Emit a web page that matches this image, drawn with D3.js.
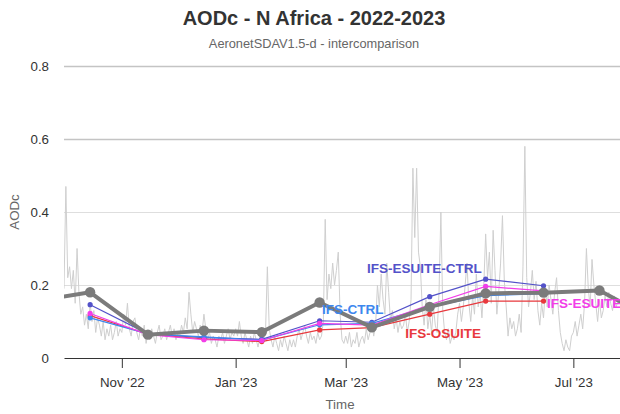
<!DOCTYPE html>
<html>
<head>
<meta charset="utf-8">
<script src="https://cdn.jsdelivr.net/npm/d3@7"></script>
<style>
  html, body { margin: 0; padding: 0; background: #fff; }
  svg { display: block; font-family: "Liberation Sans", Arial, Helvetica, sans-serif; }
</style>
</head>
<body>
<svg id="chart" width="620" height="414"></svg>
<script>
// ---- Monthly observations (AERONET SDA, mid-month) ----
const obsDates = ["2022-09-15", "2022-10-15", "2022-11-15", "2022-12-15", "2023-01-15", "2023-02-15",
                  "2023-03-15", "2023-04-15", "2023-05-15", "2023-06-15", "2023-07-15", "2023-08-15"];
const obsMonthly = [0.155, 0.180, 0.064, 0.075, 0.071, 0.152, 0.084, 0.140, 0.177, 0.179, 0.185, 0.100];

// ---- Monthly model means ----
const modelDates = ["2022-10-15", "2022-11-15", "2022-12-15", "2023-01-15", "2023-02-15",
                    "2023-03-15", "2023-04-15", "2023-05-15", "2023-06-15"];
const ifsEsuiteCtrl = [0.146, 0.066, 0.056, 0.051, 0.102, 0.098, 0.168, 0.216, 0.198];
const ifsEsuite     = [0.122, 0.064, 0.050, 0.048, 0.095, 0.090, 0.146, 0.196, 0.184];
const ifsCtrl       = [0.110, 0.066, 0.058, 0.049, 0.091, 0.095, 0.140, 0.171, 0.176];
const ifsOsuite     = [0.116, 0.065, 0.052, 0.045, 0.077, 0.083, 0.120, 0.156, 0.156];

// ---- Daily observations, one array per month ----
const dailyOct22 = [0.19, 0.47, 0.22, 0.25, 0.19, 0.24, 0.15, 0.30, 0.18, 0.12, 0.14, 0.09, 0.12, 0.08, 0.15, 0.10,
                    0.13, 0.07, 0.11, 0.09, 0.06, 0.10, 0.05, 0.08, 0.06, 0.09, 0.05, 0.07, 0.10, 0.06, 0.08];
const dailyNov22 = [0.07, 0.12, 0.09, 0.15, 0.08, 0.06, 0.10, 0.11, 0.07, 0.05, 0.08, 0.06, 0.09, 0.04, 0.07,
                    0.05, 0.08, 0.06, 0.04, 0.07, 0.09, 0.05, 0.06, 0.08, 0.05, 0.07, 0.09, 0.06, 0.08, 0.05];
const dailyDec22 = [0.07, 0.06, 0.09, 0.07, 0.11, 0.08, 0.18, 0.12, 0.07, 0.10, 0.08, 0.06, 0.09, 0.07, 0.12, 0.08,
                    0.05, 0.07, 0.04, 0.06, 0.05, 0.03, 0.06, 0.05, 0.07, 0.04, 0.06, 0.08, 0.05, 0.07, 0.06];
const dailyJan23 = [0.08, 0.06, 0.10, 0.06, 0.04, 0.07, 0.05, 0.03, 0.06, 0.04, 0.07, 0.05, 0.03, 0.06, 0.08, 0.05,
                    0.07, 0.25, 0.08, 0.05, 0.03, 0.06, 0.04, 0.02, 0.05, 0.03, 0.06, 0.04, 0.02, 0.05, 0.03];
const dailyFeb23 = [0.05, 0.03, 0.06, 0.08, 0.05, 0.07, 0.09, 0.06, 0.04, 0.07, 0.05, 0.06, 0.04, 0.07,
                    0.05, 0.06, 0.10, 0.38, 0.16, 0.23, 0.19, 0.26, 0.20, 0.24, 0.29, 0.12, 0.05, 0.04];
const dailyMar23 = [0.06, 0.04, 0.07, 0.03, 0.05, 0.04, 0.07, 0.03, 0.05, 0.06, 0.04, 0.08, 0.05, 0.07, 0.10, 0.06,
                    0.09, 0.20, 0.14, 0.23, 0.16, 0.12, 0.26, 0.18, 0.10, 0.13, 0.08, 0.11, 0.07, 0.10, 0.08];
const dailyApr23 = [0.09, 0.12, 0.07, 0.10, 0.16, 0.52, 0.33, 0.52, 0.29, 0.25, 0.14, 0.09, 0.16, 0.08, 0.12,
                    0.07, 0.14, 0.09, 0.07, 0.18, 0.40, 0.13, 0.07, 0.05, 0.08, 0.04, 0.06, 0.05, 0.07, 0.12];
const dailyMay23 = [0.15, 0.10, 0.14, 0.20, 0.26, 0.15, 0.10, 0.17, 0.12, 0.23, 0.14, 0.18, 0.11, 0.20, 0.34, 0.22,
                    0.29, 0.15, 0.35, 0.24, 0.12, 0.18, 0.26, 0.39, 0.21, 0.14, 0.06, 0.11, 0.08, 0.10, 0.06];
const dailyJun23 = [0.08, 0.12, 0.07, 0.25, 0.58, 0.22, 0.14, 0.18, 0.24, 0.16, 0.21, 0.13, 0.09, 0.15, 0.11,
                    0.19, 0.14, 0.20, 0.16, 0.12, 0.18, 0.22, 0.13, 0.07, 0.04, 0.02, 0.05, 0.03, 0.02, 0.06];
const dailyJul23 = [0.07, 0.10, 0.06, 0.09, 0.12, 0.08, 0.15, 0.30, 0.19, 0.14, 0.27, 0.20, 0.15, 0.10, 0.16,
                    0.11, 0.13, 0.17, 0.14, 0.18, 0.15, 0.13, 0.17, 0.14, 0.16, 0.15];

const yTickValues = [0, 0.2, 0.4, 0.6, 0.8];
const titleText = "AODc - N Africa - 2022-2023";
const subtitleText = "AeronetSDAV1.5-d - intercomparison";

// ---- assemble daily series ----
const dailyMonths = [
  [2022, 9, dailyOct22], [2022, 10, dailyNov22], [2022, 11, dailyDec22],
  [2023, 0, dailyJan23], [2023, 1, dailyFeb23], [2023, 2, dailyMar23],
  [2023, 3, dailyApr23], [2023, 4, dailyMay23], [2023, 5, dailyJun23], [2023, 6, dailyJul23]
];
const daily = [];
dailyMonths.forEach(([yr, mo, vals]) => vals.forEach((v, i) => daily.push({ date: new Date(Date.UTC(yr, mo, i + 1)), value: v })));

const parse = d3.utcParse("%Y-%m-%d");
const toPoints = (dates, vals) => dates.map((d, i) => ({ date: parse(d), value: vals[i] }));

const obs = toPoints(obsDates, obsMonthly);
const models = [
  { name: "IFS-ESUITE-CTRL", color: "#5352c9", points: toPoints(modelDates, ifsEsuiteCtrl) },
  { name: "IFS-OSUITE",      color: "#e8383d", points: toPoints(modelDates, ifsOsuite) },
  { name: "IFS-CTRL",        color: "#3d87ee", points: toPoints(modelDates, ifsCtrl) },
  { name: "IFS-ESUITE",      color: "#f23de9", points: toPoints(modelDates, ifsEsuite) }
];

// ---- layout ----
const svg = d3.select("#chart");
const plot = { left: 64, right: 620, top: 66, bottom: 358 };

const x = d3.scaleUtc()
  .domain([new Date(Date.UTC(2022, 9, 1)), new Date(Date.UTC(2023, 6, 26))])
  .range([plot.left, plot.right]);
const y = d3.scaleLinear().domain([0, 0.8]).range([plot.bottom, plot.top]);

svg.append("defs").append("clipPath").attr("id", "plot-clip")
  .append("rect")
  .attr("x", plot.left).attr("y", plot.top - 10)
  .attr("width", plot.right - plot.left).attr("height", plot.bottom - plot.top + 10);

// titles
svg.append("text")
  .attr("x", 314).attr("y", 25)
  .attr("text-anchor", "middle")
  .attr("font-size", 20).attr("font-weight", "bold").attr("fill", "#333")
  .text(titleText);
svg.append("text")
  .attr("x", 314).attr("y", 48)
  .attr("text-anchor", "middle")
  .attr("font-size", 12.8).attr("fill", "#666")
  .text(subtitleText);

// horizontal grid
const grid = svg.append("g").attr("class", "grid");
grid.selectAll("line").data(yTickValues.filter(v => v > 0)).join("line")
  .attr("x1", plot.left).attr("x2", plot.right)
  .attr("y1", d => y(d) + 0.5).attr("y2", d => y(d) + 0.5)
  .attr("stroke", d => d >= 0.6 ? "#c4c4c4" : "#dedede")
  .attr("stroke-width", d => d >= 0.6 ? 1.5 : 1);

// y axis labels
const yAxis = svg.append("g")
  .attr("transform", `translate(${plot.left},0)`)
  .call(d3.axisLeft(y).tickValues(yTickValues).tickSize(0).tickPadding(15)
    .tickFormat(d => d === 0 ? "0" : d3.format(".1f")(d)));
yAxis.select(".domain").remove();
yAxis.selectAll("text")
  .attr("font-family", "'Liberation Sans', Arial, sans-serif")
  .attr("font-size", 13.3).attr("fill", "#333");

svg.append("text")
  .attr("transform", `translate(19,${(plot.top + plot.bottom) / 2}) rotate(-90)`)
  .attr("text-anchor", "middle")
  .attr("font-size", 13.3).attr("fill", "#666")
  .text("AODc");

// x axis
const xAxis = svg.append("g")
  .attr("transform", `translate(0,${plot.bottom})`)
  .call(d3.axisBottom(x).ticks(d3.utcMonth.every(2)).tickSize(10).tickSizeOuter(0).tickPadding(10)
    .tickFormat(d3.utcFormat("%b '%y")));
xAxis.select(".domain").attr("stroke", "#333");
xAxis.selectAll(".tick line").attr("stroke", "#333");
xAxis.selectAll("text")
  .attr("font-family", "'Liberation Sans', Arial, sans-serif")
  .attr("font-size", 13.3).attr("fill", "#333");

svg.append("text")
  .attr("x", 340).attr("y", 409)
  .attr("text-anchor", "middle")
  .attr("font-size", 13.3).attr("fill", "#666")
  .text("Time");

// plotted series
const g = svg.append("g").attr("clip-path", "url(#plot-clip)");
const line = d3.line().x(d => x(d.date)).y(d => y(d.value));

g.append("path").datum(daily)
  .attr("d", line)
  .attr("fill", "none").attr("stroke", "#cfcfcf").attr("stroke-width", 1);

models.forEach(m => {
  g.append("path").datum(m.points)
    .attr("d", line)
    .attr("fill", "none").attr("stroke", m.color).attr("stroke-width", 1.2);
  g.selectAll(null).data(m.points).join("circle")
    .attr("cx", d => x(d.date)).attr("cy", d => y(d.value)).attr("r", 2.6)
    .attr("fill", m.color);
});

g.append("path").datum(obs)
  .attr("d", line)
  .attr("fill", "none").attr("stroke", "#7b7b7b").attr("stroke-width", 4)
  .attr("stroke-linejoin", "round");
g.selectAll(null).data(obs).join("circle")
  .attr("cx", d => x(d.date)).attr("cy", d => y(d.value)).attr("r", 5.2)
  .attr("fill", "#7b7b7b");

// series labels, placed next to a chosen point of each series
const labelFont = 13.5;
const byName = Object.fromEntries(models.map(m => [m.name, m]));
const labelSpec = [
  { name: "IFS-ESUITE-CTRL", idx: 7, dx: -4,   dy: -11, anchor: "end" },
  { name: "IFS-CTRL",        idx: 4, dx: 2.5,  dy: -15.5, anchor: "start" },
  { name: "IFS-OSUITE",      idx: 6, dx: 13.5, dy: 19,  anchor: "middle" },
  { name: "IFS-ESUITE",      idx: 8, dx: 3.5,  dy: 12,  anchor: "start" }
];
labelSpec.forEach(s => {
  const m = byName[s.name];
  const p = m.points[s.idx];
  svg.append("text")
    .attr("x", x(p.date) + s.dx)
    .attr("y", y(p.value) + s.dy + labelFont * 0.36)
    .attr("text-anchor", s.anchor)
    .attr("font-size", labelFont).attr("font-weight", "bold")
    .attr("fill", m.color)
    .text(s.name);
});
</script>
</body>
</html>
